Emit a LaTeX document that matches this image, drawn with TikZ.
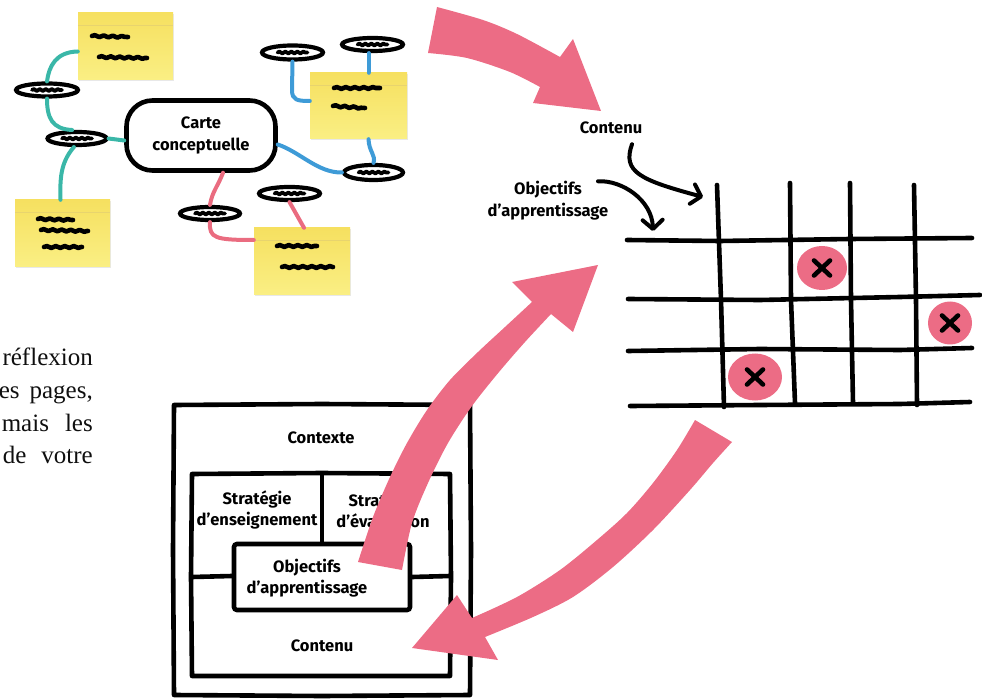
\documentclass[tikz,border=0pt]{standalone}
\usepackage{fontspec}
\setmainfont{Fira Sans}
\newfontfamily\handfont{Fira Sans}
\newfontfamily\parafont{Liberation Serif}
\usetikzlibrary{shapes.geometric,decorations.pathmorphing,arrows.meta,shadows}
\definecolor{pk}{RGB}{236,108,133}
\definecolor{pkline}{RGB}{234,108,128}
\definecolor{tealc}{RGB}{58,183,168}
\definecolor{bluec}{RGB}{62,155,215}
\definecolor{yt}{RGB}{246,224,96}
\definecolor{yb}{RGB}{250,239,132}
\definecolor{stripc}{RGB}{232,212,110}
\definecolor{parac}{RGB}{15,15,15}
\begin{document}
\begin{tikzpicture}[x=1pt,y=-1pt,
  hand/.style={font=\handfont\bfseries\fontsize{16.5}{21}\selectfont, align=center, inner sep=1pt},
  bl/.style={line width=4.6pt, line cap=round, line join=round},
  sticky/.style={rectangle, inner sep=0pt, top color=yt, bottom color=yb,
     drop shadow={opacity=0.18, shadow xshift=0.8pt, shadow yshift=-1.5pt}},
  oval/.style={ellipse, draw, line width=4.2pt, fill=white, inner sep=0pt},
  scrib/.style={line width=4.6pt, line cap=round, line join=round, decorate,
     decoration={snake, amplitude=0.9pt, segment length=9pt}},
  tl/.style={tealc, line width=4pt, line cap=round},
  bu/.style={bluec, line width=4pt, line cap=round},
  pl/.style={pkline, line width=4pt, line cap=round},
  blob/.style={ellipse, fill=pk, inner sep=0pt},
  xmark/.style={line width=4.6pt, line cap=round},
  para/.style={font=\parafont\fontsize{25}{29}\selectfont, text=parac, inner sep=0pt},
  smallarrow/.style={line width=4pt, line cap=round, -{Straight Barb[round, length=9pt, width=20pt]}}
]
\useasboundingbox (0,0) rectangle (982,700);

% ---------------- concept map ----------------
\node[sticky, minimum width=95pt, minimum height=67pt] (s1) at (125.5,46.5) {};
\node[sticky, minimum width=95pt, minimum height=67pt] (s2) at (62.5,233.5) {};
\node[sticky, minimum width=97pt, minimum height=66pt] (s3) at (358.5,106) {};
\node[sticky, minimum width=96pt, minimum height=67pt] (s4) at (302,261.5) {};
\foreach \s in {s1,s2,s3,s4}{
  \draw[stripc, line width=0.6pt] ([yshift=-13pt]\s.north west) -- ([yshift=-13pt]\s.north east);
}
% scribbles on stickies
\draw[scrib] (92,36) -- (128,37);
\draw[scrib] (99,57) -- (147,58);
\draw[scrib] (38,219) -- (73,220);
\draw[scrib] (41,230) -- (88,231);
\draw[scrib] (44,247) -- (82,247);
\draw[scrib] (334,88) -- (380,88);
\draw[scrib] (333,106) -- (365,108);
\draw[scrib] (277,246) -- (317,246);
\draw[scrib] (282,267) -- (333,267);

\node[draw, line width=4.6pt, rounded corners=26pt, minimum width=149pt, minimum height=70pt,
      fill=white, hand, font=\handfont\bfseries\fontsize{16.5}{22}\selectfont] (cloud) at (201,135.5) {Carte\\conceptuelle};

\node[oval, minimum width=62pt, minimum height=13pt] (L1) at (47,90) {};
\node[oval, minimum width=59pt, minimum height=13pt] (L2) at (77,138.5) {};
\node[oval, minimum width=61pt, minimum height=14pt] (R1) at (292.5,52.5) {};
\node[oval, minimum width=61pt, minimum height=13pt] (R2) at (372.5,44.5) {};
\node[oval, minimum width=59pt, minimum height=15pt] (R3) at (373.5,172.5) {};
\node[oval, minimum width=60pt, minimum height=13pt] (B1) at (210,213.5) {};
\node[oval, minimum width=61pt, minimum height=13pt] (B2) at (289.5,193.5) {};
\foreach \o in {L1,L2,R1,R2,R3,B1,B2}{
  \draw[scrib, line width=3.8pt, decoration={snake, amplitude=0.9pt, segment length=6pt}]
     ([xshift=-15pt]\o.center) -- ([xshift=15pt]\o.center);
}

% teal connectors
\draw[tl] ([yshift=-5pt]s1.west) .. controls (56,52) and (49,66) .. (L1.north);
\draw[tl] (L1.south) .. controls (47,118) and (52,129) .. (L2.120);
\draw[tl] (L2.east) -- ([yshift=-5pt]cloud.west);
\draw[tl] (L2.250) .. controls (60,163) and (60,180) .. ([xshift=-2pt]s2.north);
% blue connectors
\draw[bu] (R1.south) -- (292,90) .. controls (292,100) and (297,101) .. ([yshift=5pt]s3.west);
\draw[bu] ([xshift=-4pt]R2.south) -- ([xshift=-4pt]R2.south |- s3.north);
\draw[bu] ([xshift=10pt]s3.south) .. controls (369,152) and (376,155) .. (R3.north);
\draw[bu] ([yshift=-9pt]cloud.east) .. controls (300,152) and (318,173) .. (R3.west);
% pink connectors
\draw[pl] ([xshift=22pt]cloud.south) .. controls (218,186) and (212,192) .. (B1.north);
\draw[pl] (B1.south) .. controls (209,238) and (215,240) .. ([yshift=21.5pt]s4.west);
\draw[pl] (B2.south) -- ([xshift=2pt]s4.north);

% ---------------- paragraph (cut off) ----------------
\node[para, anchor=base east] (p1) at (93,365) {réflexion};
\node[para, anchor=base east] (p2) at (93,398) {\makebox[94pt][s]{es pages,}};
\node[para, anchor=base east] (p3) at (93,431) {\makebox[91pt][s]{mais les}};
\node[para, anchor=base east] (p4) at (93,463) {\makebox[90pt][s]{de votre}};

% ---------------- framework box ----------------
\draw[bl] (174,405) -- (322,404) -- (470,405) -- (471,550) -- (470,695) -- (322,696) -- (174,695) -- (173,550) -- cycle;
\draw[bl] (192,474) -- (322,473) -- (450,474) -- (451,577) -- (450,676) -- (322,676) -- (192,676) -- (191,577) -- cycle;
\draw[bl] (322,474) -- (322,543);
\draw[bl] (192,577) -- (232,576);
\draw[bl] (412,577) -- (450,576);
\node[draw, line width=4.6pt, rounded corners=3pt, minimum width=176pt, minimum height=66pt, fill=white] (objbox) at (322,577) {};
\node[hand] (ctx) at (321,438) {Contexte};
\node[hand] (strat1) at (257,510) {Stratégie\\d’enseignement};
\node[hand] (strat2) at (383,510) {Stratégie\\d’évaluation};
\node[hand] (obj) at (307,578) {Objectifs\\d’apprentissage};
\node[hand] (cont) at (322,646) {Contenu};

% ---------------- grid ----------------
\node[blob, minimum width=50pt, minimum height=44pt] (x1) at (822,268) {};
\node[blob, minimum width=44pt, minimum height=43pt] (x2) at (950,323) {};
\node[blob, minimum width=54pt, minimum height=47pt] (x3) at (755,377) {};
\foreach \b in {x1,x2,x3}{
  \draw[xmark] ([shift={(-8pt,-7.5pt)}]\b.center) -- ([shift={(8pt,7.5pt)}]\b.center);
  \draw[xmark] ([shift={(-8pt,7.5pt)}]\b.center) -- ([shift={(8pt,-7.5pt)}]\b.center);
}
\draw[bl] (627,240) -- (720,241) -- (850,239) -- (972,238);
\draw[bl] (628,299) -- (760,300) -- (900,297) -- (980,295);
\draw[bl] (628,351) -- (760,349) -- (900,350) -- (972,348);
\draw[bl] (630,406) -- (760,405) -- (900,404) -- (970,402);
\draw[bl] (717,185) -- (721,300) -- (724,407);
\draw[bl] (790,183) -- (791,300) -- (795,403);
\draw[bl] (850,183) -- (851,300) -- (853,403);
\draw[bl] (914,185) -- (916,300) -- (917,405);

\node[hand] (gcont) at (611,128) {Contenu};
\node[hand, font=\handfont\bfseries\fontsize{16.5}{22}\selectfont] (gobj) at (548,201) {Objectifs\\d’apprentissage};
\coordinate (endA) at (703,197);
\coordinate (endB) at (653,231);
\draw[smallarrow] ([xshift=21pt,yshift=-9pt]gcont.south) .. controls (622,172) and (640,180) .. (endA);
\draw[smallarrow] ([xshift=50pt,yshift=-1pt]gobj.north) .. controls (622,180) and (652,200) .. (endB);

% ---------------- big pink arrows ----------------
\fill[pk] plot[smooth] coordinates {(437,7) (483,20) (517,34) (560,57)} -- (573,39) -- (601,111) -- (533,103)
   -- plot[smooth] coordinates {(540,87) (510,72) (467,58) (428,53)} -- cycle;
\fill[pk] plot[smooth] coordinates {(358,562) (373,517) (390,477) (407,443) (427,410) (450,380) (478,352) (505,327) (532,302)}
   -- (512,282) -- (598,265) -- (573,332)
   -- plot[smooth] coordinates {(551,314) (525,342) (499,372) (472,406) (448,443) (428,483) (412,523) (402,570)} -- cycle;
\fill[pk] plot[smooth] coordinates {(695,420) (677,450) (653,483) (627,513) (597,540) (560,570) (517,597) (472,618)}
   -- (457,595) -- (412,648) -- (498,660)
   -- plot[smooth] coordinates {(485,637) (533,617) (573,597) (613,567) (653,530) (690,490) (713,463) (732,442)} -- cycle;
\end{tikzpicture}
\end{document}
